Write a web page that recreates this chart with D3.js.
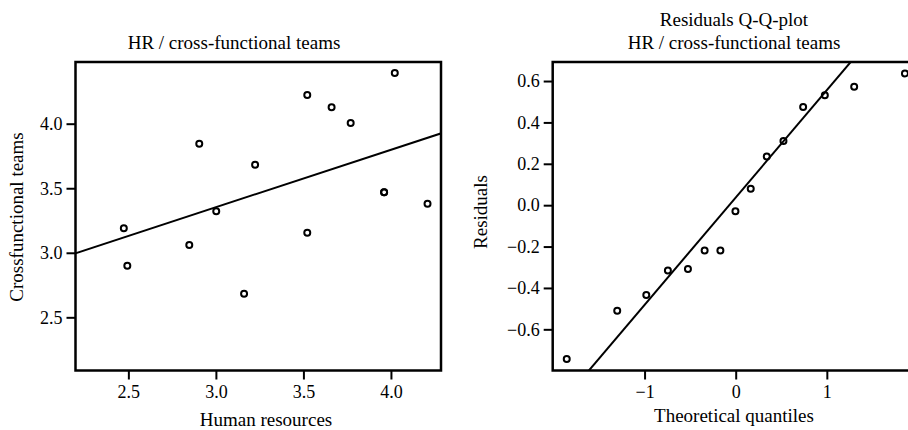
<!DOCTYPE html>
<html>
<head>
<meta charset="utf-8">
<script src="https://cdn.jsdelivr.net/npm/d3@7"></script>
<style>
  body { margin: 0; padding: 0; background: #fff; }
  svg { display: block; }
  text { font-family: 'Liberation Serif', 'Times New Roman', serif; fill: #000; }
</style>
</head>
<body>
<div id="chart"></div>
<script>
"use strict";

// scatter: HR vs cross-functional teams
const hrScores = [2.474, 2.494, 2.848, 2.905, 3.002, 3.161, 3.224, 3.522, 3.522, 3.661, 3.770, 3.961, 3.961, 4.022, 4.209];
const teamScores = [3.191, 2.899, 3.060, 3.845, 3.321, 2.682, 3.682, 4.222, 3.155, 4.127, 4.005, 3.468, 3.468, 4.393, 3.380];
const fitLine = { intercept: 2.018, slope: 0.445 };
const scatterXTicks = [2.5, 3.0, 3.5, 4.0];
const scatterYTicks = [2.5, 3.0, 3.5, 4.0];

// Q-Q plot of the residuals
const theoreticalQuantiles = [-1.854, -1.300, -0.981, -0.744, -0.524, -0.341, -0.168, -0.003, 0.165, 0.341, 0.524, 0.740, 0.978, 1.300, 1.857];
const sortedResiduals = [-0.743, -0.510, -0.434, -0.316, -0.309, -0.219, -0.219, -0.029, 0.080, 0.235, 0.310, 0.474, 0.531, 0.572, 0.637];
const qqLine = { intercept: 0.037, slope: 0.519 };
const qqXTicks = [-1, 0, 1];
const qqYTicks = [-0.6, -0.4, -0.2, 0.0, 0.2, 0.4, 0.6];

const width = 908;
const height = 430;

const svg = d3.select('#chart')
  .append('svg')
  .attr('width', width)
  .attr('height', height);

const fmt = d3.format('.1f');

const drawPanel = (opts) => {
  const { left, top, w, h, xDomain, yDomain, xTicks, yTicks, xFormat, yFormat, xs, ys, line, clipId } = opts;

  const x = d3.scaleLinear().domain(xDomain).range([left, left + w]);
  const y = d3.scaleLinear().domain(yDomain).range([top + h, top]);

  const g = svg.append('g');

  g.append('clipPath')
    .attr('id', clipId)
    .append('rect')
    .attr('x', left).attr('y', top)
    .attr('width', w).attr('height', h);

  const xAxis = g.append('g')
    .attr('transform', `translate(0,${top + h})`)
    .call(d3.axisBottom(x).tickValues(xTicks).tickFormat(xFormat).tickSizeOuter(0).tickSizeInner(9).tickPadding(6));
  const yAxis = g.append('g')
    .attr('transform', `translate(${left},0)`)
    .call(d3.axisLeft(y).tickValues(yTicks).tickFormat(yFormat).tickSizeOuter(0).tickSizeInner(9).tickPadding(4));

  [xAxis, yAxis].forEach((a) => {
    a.select('.domain').remove();
    a.selectAll('.tick line').attr('stroke', '#000').attr('stroke-width', 2);
    a.selectAll('.tick text')
      .attr('font-family', "'Liberation Serif', serif")
      .attr('font-size', 18)
      .attr('fill', '#000');
  });

  const inner = g.append('g').attr('clip-path', `url(#${clipId})`);

  // fitted line across the whole panel
  const x0 = d3.min([xDomain[0], (yDomain[0] - line.intercept) / line.slope]);
  const x1 = d3.max([xDomain[1], (yDomain[1] - line.intercept) / line.slope]);
  inner.append('line')
    .attr('x1', x(x0)).attr('y1', y(line.intercept + line.slope * x0))
    .attr('x2', x(x1)).attr('y2', y(line.intercept + line.slope * x1))
    .attr('stroke', '#000')
    .attr('stroke-width', 2);

  inner.selectAll('circle')
    .data(xs.map((v, i) => ({ x: v, y: ys[i] })))
    .enter().append('circle')
      .attr('cx', d => x(d.x))
      .attr('cy', d => y(d.y))
      .attr('r', 3)
      .attr('fill', 'none')
      .attr('stroke', '#000')
      .attr('stroke-width', 2);

  g.append('rect')
    .attr('x', left).attr('y', top)
    .attr('width', w).attr('height', h)
    .attr('fill', 'none')
    .attr('stroke', '#000')
    .attr('stroke-width', 2.5);

  return { x, y };
};

drawPanel({
  left: 75.5, top: 62, w: 365.5, h: 308.5,
  xDomain: [2.198, 4.286], yDomain: [2.088, 4.478],
  xTicks: scatterXTicks, yTicks: scatterYTicks,
  xFormat: fmt, yFormat: fmt,
  xs: hrScores, ys: teamScores,
  line: fitLine, clipId: 'clip-left'
});

drawPanel({
  left: 552.7, top: 62, w: 366, h: 308.5,
  xDomain: [-2.008, 2.008], yDomain: [-0.799, 0.692],
  xTicks: qqXTicks, yTicks: qqYTicks,
  xFormat: d3.format('d'), yFormat: fmt,
  xs: theoreticalQuantiles, ys: sortedResiduals,
  line: qqLine, clipId: 'clip-right'
});

// titles and axis labels
const label = (txt, x, y, rotate) => {
  const t = svg.append('text')
    .attr('font-size', 19)
    .attr('text-anchor', 'middle')
    .text(txt);
  if (rotate) {
    t.attr('transform', `translate(${x},${y}) rotate(-90)`);
  } else {
    t.attr('x', x).attr('y', y);
  }
};

label('HR / cross-functional teams', 234, 48.5);
label('Human resources', 266, 426);
label('Crossfunctional teams', 23, 217, true);

label('Residuals Q-Q-plot', 734, 26);
label('HR / cross-functional teams', 734, 48.5);
label('Theoretical quantiles', 734, 421.5);
label('Residuals', 487, 212, true);
</script>
</body>
</html>
